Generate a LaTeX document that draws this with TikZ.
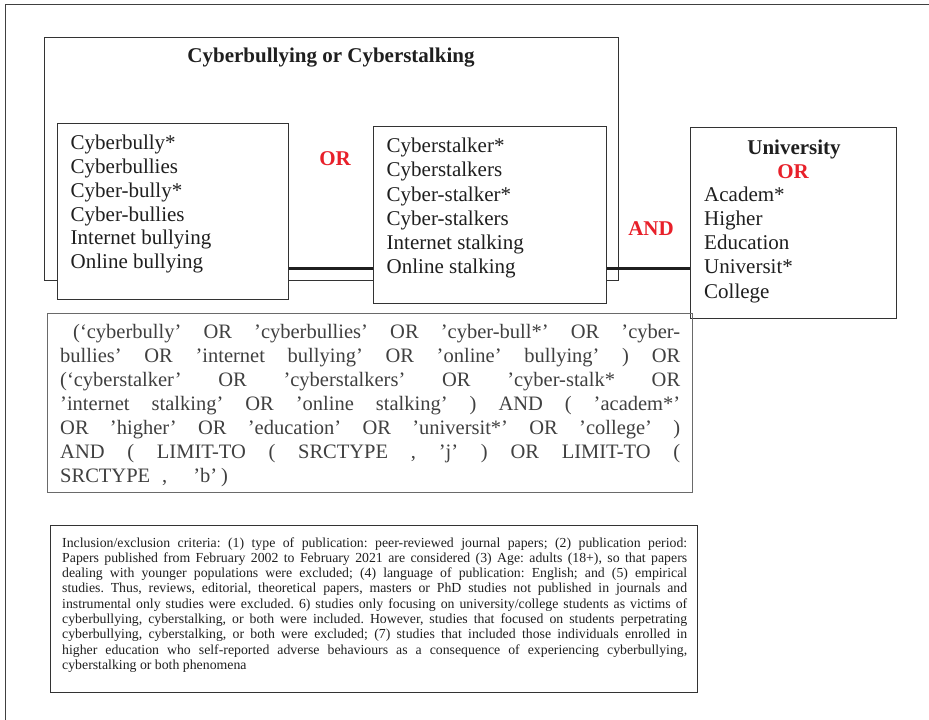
\documentclass[tikz,border=0pt]{standalone}
\usepackage{fontspec}
\setmainfont{Liberation Serif}
\frenchspacing
\definecolor{redtxt}{HTML}{E8202A}
\definecolor{boxline}{HTML}{333333}
\definecolor{qline}{HTML}{6A6A6A}
\definecolor{qtext}{HTML}{404040}
\begin{document}
\begin{tikzpicture}[x=1pt,y=-1pt,
  box/.style={draw=boxline, line width=1pt, inner sep=0pt, anchor=north west},
  qbox/.style={draw=qline, line width=1.2pt, inner sep=0pt, anchor=north west},
  listtxt/.style={font=\fontsize{21}{24}\selectfont, anchor=base west, inner sep=0pt, text=black!88},
  headtxt/.style={font=\fontsize{21}{24}\selectfont\bfseries, anchor=base, inner sep=0pt, text=black!88},
  redlbl/.style={font=\fontsize{21}{24}\selectfont\bfseries, anchor=base, inner sep=0pt, text=redtxt},
  qtxt/.style={font=\fontsize{20.5}{24}\selectfont\frenchspacing, anchor=base west, inner sep=0pt, text=qtext},
  ctxt/.style={font=\fontsize{13.8}{15.3}\selectfont\frenchspacing, anchor=base west, inner sep=0pt, text=black!88},
  link/.style={line width=3pt, draw=black!88},
  frame/.style={line width=1pt, draw=black!75}]
\useasboundingbox (0,0) rectangle (929,720);
% outer frame
\draw[frame] (5,720) -- (5,4) -- (929,4);
% big group box
\node[box, minimum width=574pt, minimum height=243pt] (main) at (44,37) {};
\node[headtxt] (title) at (331,62) {Cyberbullying or Cyberstalking};
% cyberbullying box
\node[box, fill=white, minimum width=231pt, minimum height=176pt] (bully) at (57,123) {};
\foreach \t [count=\i] in {Cyberbully*,Cyberbullies,Cyber-bully*,Cyber-bullies,Internet bullying,Online bullying}
  \node[listtxt] (b\i) at (70.5,{149.3+23.9*(\i-1)}) {\t};
% cyberstalking box
\node[box, fill=white, minimum width=232.5pt, minimum height=176.5pt] (stalker) at (373,126) {};
\foreach \t [count=\i] in {Cyberstalker*,Cyberstalkers,Cyber-stalker*,Cyber-stalkers,Internet stalking,Online stalking}
  \node[listtxt] (s\i) at (386.5,{152.7+24.2*(\i-1)}) {\t};
% university box
\node[box, fill=white, minimum width=206pt, minimum height=191pt] (univ) at (690,127) {};
\node[headtxt] (utitle) at (794,154) {University};
\node[redlbl] (uor) at (793,178) {OR};
\foreach \t [count=\i] in {Academ*,Higher,Education,Universit*,College}
  \node[listtxt] (u\i) at (704,{201+24.3*(\i-1)}) {\t};
% operators
\node[redlbl] (or1) at (335,165) {OR};
\node[redlbl] (and1) at (651,235) {AND};
% connectors
\coordinate (ly) at (0,268);
\draw[link] (bully.east |- ly) -- (stalker.west |- ly);
\draw[link] (stalker.east |- ly) -- (univ.west |- ly);
% query box
\node[qbox, minimum width=645pt, minimum height=179pt] (query) at (47,313) {};
\node[qtxt] (q1) at (73,338) {\makebox[607pt][s]{(‘cyberbully’ OR ’cyberbullies’ OR ’cyber-bull*’ OR ’cyber-}};
\node[qtxt] (q2) at (60,362) {\makebox[620pt][s]{bullies’ OR ’internet bullying’ OR ’online’ bullying’ ) OR}};
\node[qtxt] (q3) at (60,386) {\makebox[620pt][s]{(‘cyberstalker’ OR ’cyberstalkers’ OR ’cyber-stalk* OR}};
\node[qtxt] (q4) at (60,410) {\makebox[620pt][s]{’internet stalking’ OR ’online stalking’ ) AND ( ’academ*’}};
\node[qtxt] (q5) at (60,434) {\makebox[620pt][s]{OR ’higher’ OR ’education’ OR ’universit*’ OR ’college’ )}};
\node[qtxt] (q6) at (60,458) {\makebox[620pt][s]{AND ( LIMIT-TO ( SRCTYPE , ’j’ ) OR LIMIT-TO (}};
\node[qtxt] (q7) at (60,482) {SRCTYPE\hspace{12pt},\hspace{26pt}’b’\hspace{4pt})};
% criteria box
\node[box, minimum width=647pt, minimum height=167pt] (crit) at (50,525) {};
\node[ctxt] (c1) at (62,547) {\makebox[625pt][s]{Inclusion/exclusion criteria: (1) type of publication: peer-reviewed journal papers; (2) publication period:}};
\node[ctxt] (c2) at (62,562.3) {\makebox[625pt][s]{Papers published from February 2002 to February 2021 are considered (3) Age: adults (18+), so that papers}};
\node[ctxt] (c3) at (62,577.6) {\makebox[625pt][s]{dealing with younger populations were excluded; (4) language of publication: English; and (5) empirical}};
\node[ctxt] (c4) at (62,592.9) {\makebox[625pt][s]{studies. Thus, reviews, editorial, theoretical papers, masters or PhD studies not published in journals and}};
\node[ctxt] (c5) at (62,608.2) {\makebox[625pt][s]{instrumental only studies were excluded. 6) studies only focusing on university/college students as victims of}};
\node[ctxt] (c6) at (62,623.5) {\makebox[625pt][s]{cyberbullying, cyberstalking, or both were included. However, studies that focused on students perpetrating}};
\node[ctxt] (c7) at (62,638.8) {\makebox[625pt][s]{cyberbullying, cyberstalking, or both were excluded; (7) studies that included those individuals enrolled in}};
\node[ctxt] (c8) at (62,654.1) {\makebox[625pt][s]{higher education who self-reported adverse behaviours as a consequence of experiencing cyberbullying,}};
\node[ctxt] (c9) at (62,669.4) {cyberstalking or both phenomena};
\end{tikzpicture}
\end{document}
